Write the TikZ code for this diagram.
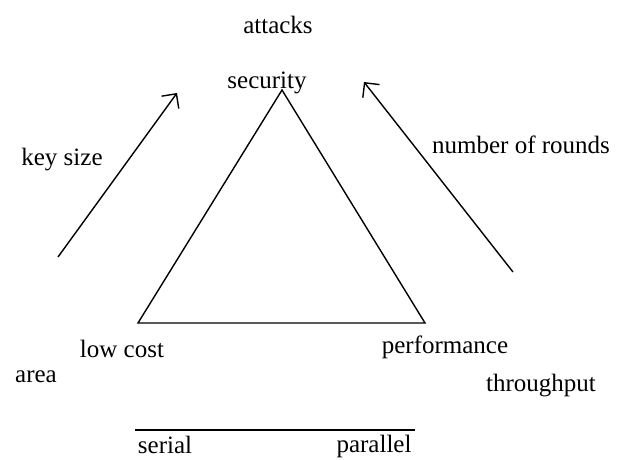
\documentclass[tikz,border=0pt]{standalone}
\usepackage{fontspec}
\setmainfont{Liberation Serif}
\usetikzlibrary{arrows.meta}
\begin{document}
\begin{tikzpicture}[x=1pt,y=-1pt,
  lbl/.style={font=\fontsize{25}{30}\selectfont, inner sep=0pt, text=black},
  edge/.style={line width=1.4pt, black},
  barb/.style={line width=1.4pt, black, -{Straight Barb[angle=90:15pt, line width=1.4pt]}}]
\useasboundingbox (0,0) rectangle (633,459);
% triangle corners
\coordinate (apex) at (282,90);
\coordinate (bl) at (138,323);
\coordinate (br) at (425,323);
\draw[edge, line join=miter] (apex) -- (br) -- (bl) -- cycle;
% arrows
\coordinate (la0) at (58,257);
\coordinate (la1) at (177,93);
\coordinate (ra0) at (513,272);
\coordinate (ra1) at (364,82);
\draw[barb] (la0) -- (la1);
\draw[barb] (ra0) -- (ra1);
% bottom line
\coordinate (s0) at (135,430);
\coordinate (s1) at (415,430);
\draw[edge] (s0) -- (s1);
% labels
\node[lbl] (attacks) at (278,25) {attacks};
\node[lbl] (security) at (267,83) {security};
\node[lbl] (keysize) at (62,160) {key size};
\node[lbl] (rounds) at (521,145) {number of rounds};
\node[lbl] (lowcost) at (122,349) {low cost};
\node[lbl] (perf) at (445,347) {performance};
\node[lbl] (area) at (36,377) {area};
\node[lbl] (thr) at (541,386) {throughput};
\node[lbl] (serial) at (165,445) {serial};
\node[lbl] (parallel) at (374,446) {parallel};
\end{tikzpicture}
\end{document}
